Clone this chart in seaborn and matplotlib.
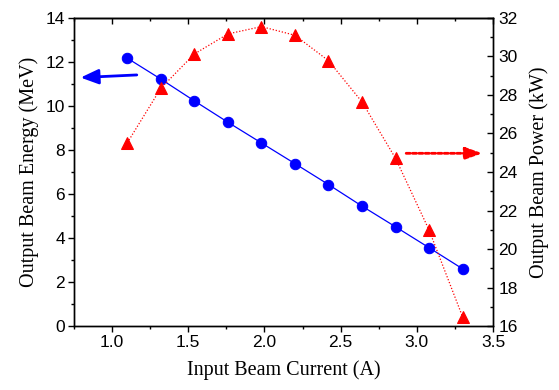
import matplotlib
matplotlib.use("Agg")
import matplotlib.pyplot as plt
import seaborn as sns
import numpy as np
import pandas as pd
from matplotlib.ticker import MultipleLocator

current = [1.1, 1.32, 1.54, 1.76, 1.98, 2.2, 2.42, 2.64, 2.86, 3.08, 3.3]
energy = [12.17, 11.22, 10.23, 9.26, 8.32, 7.38, 6.43, 5.45, 4.51, 3.56, 2.6]
power = [25.52, 28.35, 30.13, 31.17, 31.55, 31.1, 29.78, 27.64, 24.71, 20.99, 16.48]

sns.set_style("ticks")
plt.rcParams['font.family'] = ['Liberation Sans', 'DejaVu Sans']
plt.rcParams['text.color'] = 'black'
plt.rcParams['axes.labelcolor'] = 'black'
plt.rcParams['xtick.color'] = 'black'
plt.rcParams['ytick.color'] = 'black'

df = pd.DataFrame({"current": current, "energy": energy, "power": power})

fig = plt.figure(figsize=(5.59, 3.9), dpi=100)
ax = fig.add_axes([0.1324, 0.164, 0.7496, 0.79])
ax2 = ax.twinx()

sns.lineplot(data=df, x="current", y="energy", ax=ax, color="#0000ff", lw=0.9,
             marker="o", markersize=7.5, markeredgecolor="#0000ff")
sns.lineplot(data=df, x="current", y="power", ax=ax2, color="#ff0000", lw=0.9,
             linestyle=(0, (1, 1.5)), marker="^", markersize=8, markeredgecolor="#ff0000")

ax.set_xlim(0.75, 3.5)
ax.set_ylim(0, 14)
ax2.set_ylim(16, 32)
ax.xaxis.set_major_locator(MultipleLocator(0.5))
ax.xaxis.set_minor_locator(MultipleLocator(0.25))
ax.yaxis.set_major_locator(MultipleLocator(2))
ax.yaxis.set_minor_locator(MultipleLocator(1))
ax2.yaxis.set_major_locator(MultipleLocator(2))
ax2.yaxis.set_minor_locator(MultipleLocator(1))

ax.tick_params(which="major", direction="out", length=4.5, width=1, labelsize=12.5, colors="black", pad=2)
ax.tick_params(which="minor", direction="out", length=2.5, width=1, colors="black")
ax2.tick_params(which="major", direction="in", length=4.5, width=1, labelsize=12.5, pad=4, colors="black")
ax2.tick_params(which="minor", direction="in", length=2.5, width=1, colors="black")

top = ax.secondary_xaxis("top")
top.xaxis.set_major_locator(MultipleLocator(0.5))
top.xaxis.set_minor_locator(MultipleLocator(0.25))
top.tick_params(which="major", direction="in", length=4.5, width=1, labeltop=False, colors="black")
top.tick_params(which="minor", direction="in", length=2.5, width=1, colors="black")
top.spines["top"].set_linewidth(1)

for a in (ax, ax2):
    for s in a.spines.values():
        s.set_visible(True)
        s.set_linewidth(1)
        s.set_color("black")

ax.set_xticks([1.0, 1.5, 2.0, 2.5, 3.0, 3.5])
ax.set_xticklabels(["1.0", "1.5", "2.0", "2.5", "3.0", "3.5"])

serif = ['Liberation Serif', 'DejaVu Serif']
ax.set_xlabel("Input Beam Current (A)", fontsize=14.5, family=serif, labelpad=7, color="black")
ax.set_ylabel("Output Beam Energy (MeV)", fontsize=14.5, family=serif, labelpad=5, color="black")
ax2.set_ylabel("Output Beam Power (kW)", fontsize=14.5, family=serif, labelpad=8, color="black")

ax.annotate("", xy=(0.793, 11.29), xytext=(1.162, 11.41),
            arrowprops=dict(arrowstyle="-|>,head_length=0.6,head_width=0.25", color="#0000ff",
                            lw=2, mutation_scale=18, shrinkA=0, shrinkB=0))
ax2.annotate("", xy=(3.43, 24.97), xytext=(2.93, 24.97),
             arrowprops=dict(arrowstyle="-|>,head_length=0.56,head_width=0.2", color="#ff0000",
                             lw=2, linestyle=(0, (1.45, 0.83)), mutation_scale=18,
                             shrinkA=0, shrinkB=0))

fig.savefig("out.png", dpi=100)
